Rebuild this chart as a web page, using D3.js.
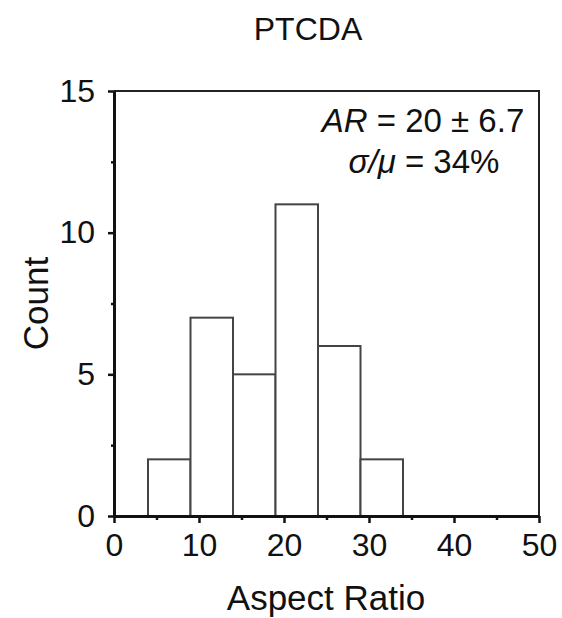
<!DOCTYPE html>
<html><head><meta charset="utf-8">
<script src="https://cdn.jsdelivr.net/npm/d3@7"></script>
<style>body{margin:0;background:#fff}svg{display:block}text{font-family:"Liberation Sans",Arial,sans-serif;fill:#111}</style>
</head><body>
<script>
const binStarts = [4, 9, 14, 19, 24, 29];
const binWidth = 5;
const counts = [2, 7, 5, 11, 6, 2];
const xTicks = [0, 10, 20, 30, 40, 50];
const xMinor = [5, 15, 25, 35, 45];
const yTicks = [0, 5, 10, 15];
const yMinor = [2.5, 7.5, 12.5];
const title = "PTCDA";
const xLabel = "Aspect Ratio";
const yLabel = "Count";

const W = 562, H = 618;
const svg = d3.select("body").append("svg").attr("width", W).attr("height", H);
const x = d3.scaleLinear().domain([0, 50]).range([114, 539]);
const y = d3.scaleLinear().domain([0, 15]).range([516, 91]);

// bars
svg.selectAll("rect.bar").data(counts).join("rect")
  .attr("x", (d,i)=>x(binStarts[i]))
  .attr("width", (d,i)=>x(binStarts[i]+binWidth)-x(binStarts[i]))
  .attr("y", d=>y(d)).attr("height", d=>y(0)-y(d))
  .attr("fill", "#fff").attr("stroke", "#444").attr("stroke-width", 2);

// top & right border
svg.append("path").attr("d", `M${x(0)},${y(15)}H${x(50)}V${y(0)}`)
  .attr("fill","none").attr("stroke","#222").attr("stroke-width",2);

const fs = 32;
// x axis
const xa = svg.append("g").attr("transform", `translate(0,${y(0)})`)
  .call(d3.axisBottom(x).tickValues(xTicks).tickSize(7).tickPadding(10).tickSizeOuter(0));
xa.append("g").call(d3.axisBottom(x).tickValues(xMinor).tickSize(4).tickFormat("")).select(".domain").remove();
// y axis
const ya = svg.append("g").attr("transform", `translate(${x(0)},0)`)
  .call(d3.axisLeft(y).tickValues(yTicks).tickSize(6).tickPadding(13).tickSizeOuter(0));
ya.append("g").call(d3.axisLeft(y).tickValues(yMinor).tickSize(3).tickFormat("")).select(".domain").remove();

svg.selectAll(".domain").attr("stroke","#111").attr("stroke-width",3);
svg.selectAll(".tick line").attr("stroke","#111").attr("stroke-width",2.5);
svg.selectAll(".tick text").attr("font-size", fs).attr("fill","#111")
  .style("font-family","'Liberation Sans',Arial,sans-serif");
xa.selectAll(".tick text").attr("dy","0.72em");

// labels
svg.append("text").attr("x", 326).attr("y", 610).attr("text-anchor","middle")
  .attr("font-size", 35).text(xLabel);
svg.append("text").attr("transform", `translate(48,${(y(0)+y(15))/2}) rotate(-90)`)
  .attr("text-anchor","middle").attr("font-size", 35).text(yLabel);
svg.append("text").attr("x", 308).attr("y", 40).attr("text-anchor","middle")
  .attr("font-size", 32).text(title);

// annotation
const t1 = svg.append("text").attr("x", 423).attr("y", 132).attr("text-anchor","middle").attr("font-size", 33);
t1.append("tspan").attr("font-style","italic").text("AR");
t1.append("tspan").text(" = 20 ± 6.7");
const t2 = svg.append("text").attr("x", 424).attr("y", 173).attr("text-anchor","middle").attr("font-size", 33);
t2.append("tspan").attr("font-style","italic").text("σ/μ");
t2.append("tspan").text(" = 34%");
</script>
</body></html>
